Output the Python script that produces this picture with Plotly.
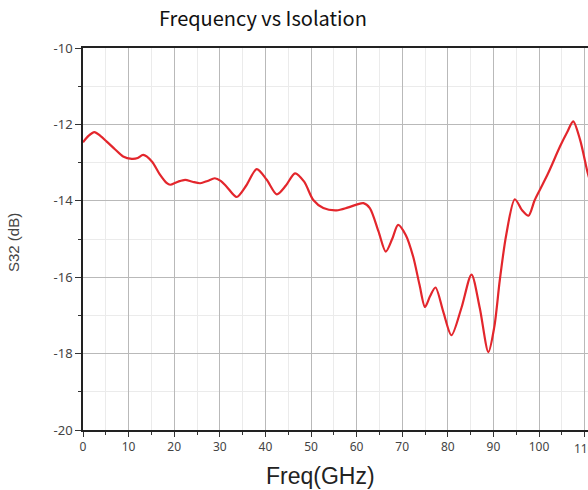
import plotly.graph_objects as go

freq_ghz = [0, 1.2, 2.5, 3.8, 5.2, 7.0, 8.8, 10.7, 12.0, 13.2, 15.1, 16.8, 18.4, 19.1, 20.8,
            22.4, 24.0, 25.7, 27.3, 28.9, 30.2, 31.5, 33.7, 35.8, 38.1, 40.3, 42.5, 44.5,
            46.5, 48.5, 50.5, 52.7, 55.6, 58.0, 60.0, 61.5, 62.9, 64.8, 66.4, 67.8, 69.1,
            70.8, 72.4, 73.8, 75.0, 76.1, 77.3, 79.0, 80.8, 83.0, 85.2, 87.0, 88.9,
            90.2, 91.4, 92.8, 94.7, 96.3, 97.7, 99.0, 100.2, 102.0, 104.6, 106.2,
            107.5, 109.0, 110.7, 111.5]
s32_db = [-12.47, -12.3, -12.2, -12.3, -12.45, -12.65, -12.84, -12.9, -12.88, -12.8, -12.97,
          -13.3, -13.54, -13.58, -13.5, -13.45, -13.5, -13.54, -13.48, -13.41, -13.48, -13.63,
          -13.9, -13.6, -13.17, -13.45, -13.83, -13.6, -13.28, -13.5, -13.98, -14.19,
          -14.25, -14.18, -14.1, -14.06, -14.19, -14.8, -15.33, -15.0, -14.63, -14.9,
          -15.46, -16.2, -16.78, -16.5, -16.27, -16.9, -17.52, -16.8, -15.93, -16.8,
          -17.96, -17.3, -16.08, -14.9, -13.96, -14.25, -14.39, -14.0, -13.71, -13.28,
          -12.58, -12.2, -11.92, -12.4, -13.28, -13.6]

x_ticks = [0, 10, 20, 30, 40, 50, 60, 70, 80, 90, 100, 110]
y_ticks = [-10, -12, -14, -16, -18, -20]
y_tick_text = ["-10", "-12", "-14", "-16", "-18", "-20"]

fig = go.Figure()
fig.add_trace(go.Scatter(
    x=freq_ghz, y=s32_db, mode="lines",
    line=dict(color="#e3262c", width=2.2, shape="spline", smoothing=0.8),
    showlegend=False,
))

W, H = 588, 490
ml, mr, mt, mb = 83, 0, 48, 60

fig.update_layout(
    width=W, height=H,
    margin=dict(l=ml, r=mr, t=mt, b=mb, autoexpand=False),
    paper_bgcolor="white", plot_bgcolor="white",
    font=dict(family="Noto Sans, Roboto, sans-serif", color="#333"),
    annotations=[
        dict(text="Frequency vs Isolation", xref="paper", yref="paper",
             x=(263 - ml) / (W - ml - mr), y=1 + (mt - 17) / (H - mt - mb),
             xanchor="center", yanchor="middle", showarrow=False,
             font=dict(family="Noto Sans CJK SC, Noto Sans", size=20, color="#111")),
        dict(text="Freq(GHz)", xref="paper", yref="paper",
             x=(320 - ml) / (W - ml - mr), y=-(476 - (H - mb)) / (H - mt - mb),
             xanchor="center", yanchor="middle", showarrow=False,
             font=dict(family="Liberation Sans, Arial", size=23, color="#222")),
        dict(text="S32 (dB)", xref="paper", yref="paper", textangle=-90,
             x=-(ml - 13) / (W - ml - mr), y=1 - (243 - mt) / (H - mt - mb),
             xanchor="center", yanchor="middle", showarrow=False,
             font=dict(family="Liberation Sans, Arial", size=15, color="#444")),
        dict(text=str(x_ticks[-1]), xref="x", yref="paper", x=x_ticks[-1],
             y=-(448 - (H - mb)) / (H - mt - mb),
             xanchor="center", yanchor="middle", showarrow=False,
             font=dict(family="Noto Sans", size=12, color="#444")),
    ],
)

fig.update_xaxes(
    range=[0, (W - ml - mr) / 4.56],
    tickvals=x_ticks, ticks="outside", ticklen=5, tickwidth=1.3, tickcolor="#333",
    tickfont=dict(size=12, color="#444"),
    showgrid=True, gridcolor="#b9b9b9", gridwidth=1,
    minor=dict(dtick=5, tick0=0, showgrid=True, gridcolor="#ebebeb", ticks="outside",
               ticklen=3, tickcolor="#333"),
    showline=True, linecolor="#222", linewidth=1.6, mirror=True,
    zeroline=False, fixedrange=True,
)
fig.update_yaxes(
    range=[-20, -10],
    tickvals=y_ticks, ticktext=y_tick_text, ticks="outside", ticklen=6, tickwidth=1.3,
    tickcolor="#333", tickfont=dict(size=13, color="#444"),
    showgrid=True, gridcolor="#b9b9b9", gridwidth=1,
    minor=dict(dtick=1, tick0=-20, showgrid=True, gridcolor="#ebebeb", ticks="outside",
               ticklen=3, tickcolor="#333"),
    showline=True, linecolor="#222", linewidth=1.6, mirror=False,
    zeroline=False, fixedrange=True,
)

fig.write_html("out.html", config={"displayModeBar": False},
               post_script="document.body.style.margin='0';document.body.style.overflow='hidden';")
